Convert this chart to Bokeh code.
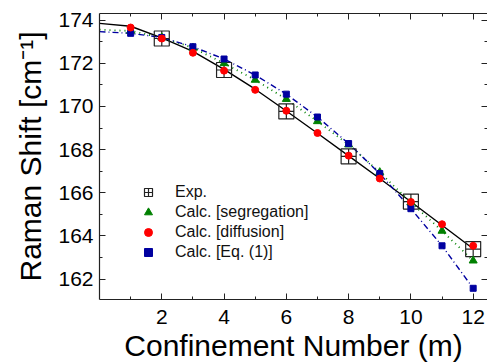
from bokeh.plotting import figure
from bokeh.models import LinearAxis, FixedTicker, Legend, LegendItem, Range1d, CustomJSTickFormatter
from bokeh.embed import file_html
from bokeh.resources import INLINE

# ---- data ----
x_ticks = [2, 4, 6, 8, 10, 12]
x_minor = [1, 3, 5, 7, 9, 11]
y_ticks = [162, 164, 166, 168, 170, 172, 174]
y_minor = [163, 165, 167, 169, 171, 173]

exp_m = [2, 4, 6, 8, 10, 12]
exp_shift = [173.15, 171.69, 169.77, 167.69, 165.59, 163.39]

fit_m = [0, 1, 2, 3, 4, 5, 6, 7, 8, 9, 10, 11, 12]
fit_shift = [173.85, 173.72, 173.18, 172.55, 171.72, 170.80, 169.79, 168.76,
             167.71, 166.66, 165.58, 164.49, 163.40]

calc_m = [1, 2, 3, 4, 5, 6, 7, 8, 9, 10, 11, 12]
diff_shift = [173.66, 173.15, 172.49, 171.66, 170.77, 169.80, 168.77, 167.72,
              166.66, 165.57, 164.54, 163.54]

line_m = [0, 1, 2, 3, 4, 5, 6, 7, 8, 9, 10, 11, 12]
seg_shift = [173.56, 173.50, 173.20, 172.72, 172.00, 171.23, 170.34, 169.31,
             168.23, 166.95, 165.55, 164.23, 162.85]
eq1_shift = [173.47, 173.39, 173.20, 172.77, 172.20, 171.46, 170.57, 169.51,
             168.28, 166.89, 165.26, 163.54, 161.57]

FONT = "Liberation Sans"
GREEN = "#008000"
RED = "#ff0000"
BLUE = "#0000a0"

p = figure(width=487, height=364, output_backend="svg", toolbar_location=None,
           x_range=Range1d(0, 12.46), y_range=Range1d(161.05, 174.31),
           min_border_left=99, min_border_right=0, min_border_top=13,
           min_border_bottom=64)
p.outline_line_color = None
p.grid.visible = False
p.background_fill_color = "white"

# lines
p.line(fit_m, fit_shift, line_color="black", line_width=1.4)
p.line(line_m, seg_shift, line_color=GREEN, line_width=1.8, line_dash="1 4")
p.line(line_m, eq1_shift, line_color=BLUE, line_width=1.4, line_dash="6 3 1 3")

r_exp = p.scatter(exp_m, exp_shift, marker="square_cross", size=15,
                  fill_color=None, line_color="#222222", line_width=1.2)
r_seg = p.scatter(calc_m, seg_shift[1:], marker="triangle", size=8,
                  fill_color=GREEN, line_color=GREEN)
r_eq1 = p.scatter(calc_m, eq1_shift[1:], marker="square", size=6,
                  fill_color=BLUE, line_color=BLUE)
r_diff = p.scatter(calc_m, diff_shift, marker="circle", size=7,
                   fill_color=RED, line_color=RED)

def style_axis(ax, show_labels=True, show_line=True):
    ax.major_tick_in = 6
    ax.major_tick_out = 0
    ax.minor_tick_in = 3
    ax.minor_tick_out = 0
    ax.major_tick_line_color = "#222222"
    ax.minor_tick_line_color = "#222222"
    ax.axis_line_color = "#222222" if show_line else None
    ax.axis_line_width = 1.2
    ax.major_label_text_font = FONT
    ax.major_label_text_color = "black"
    ax.axis_label_text_font = FONT
    ax.axis_label_text_font_style = "normal"
    ax.axis_label_text_color = "black"
    if not show_labels:
        ax.formatter = CustomJSTickFormatter(code="return ''")
        ax.major_label_text_font_size = "1px"
        ax.major_label_standoff = 0

xb = p.xaxis[0]
xb.ticker = FixedTicker(ticks=x_ticks, minor_ticks=x_minor)
style_axis(xb)
xb.major_label_text_font_size = "21px"
xb.major_label_standoff = 10
xb.axis_label = "Confinement Number (m)"
xb.axis_label_text_font_size = "30px"
xb.axis_label_standoff = 2

yl = p.yaxis[0]
yl.ticker = FixedTicker(ticks=y_ticks, minor_ticks=y_minor)
style_axis(yl)
yl.major_label_text_font_size = "21px"
yl.major_label_standoff = 6
yl.axis_label = "Raman Shift [cm\u207b\u00b9]"
yl.axis_label_text_font_size = "30px"
yl.axis_label_standoff = 8

xt = LinearAxis(ticker=FixedTicker(ticks=x_ticks, minor_ticks=x_minor))
style_axis(xt, show_labels=False)
p.add_layout(xt, "above")

yr = LinearAxis(ticker=FixedTicker(ticks=y_ticks, minor_ticks=y_minor))
style_axis(yr, show_labels=False, show_line=False)
p.add_layout(yr, "right")

legend = Legend(items=[
    LegendItem(label="Exp.", renderers=[r_exp]),
    LegendItem(label="Calc. [segregation]", renderers=[r_seg]),
    LegendItem(label="Calc. [diffusion]", renderers=[r_diff]),
    LegendItem(label="Calc. [Eq. (1)]", renderers=[r_eq1]),
], location=(39, 37))
legend.padding = 0
legend.margin = 0
legend.spacing = 0
legend.glyph_width = 20
legend.glyph_height = 20
legend.label_height = 20
legend.label_standoff = 17
legend.label_text_font = FONT
legend.label_text_font_size = "16px"
legend.label_text_color = "#111111"
legend.border_line_color = None
legend.background_fill_alpha = 0
p.add_layout(legend, "center")

open("out.html", "w").write(file_html(p, INLINE))
